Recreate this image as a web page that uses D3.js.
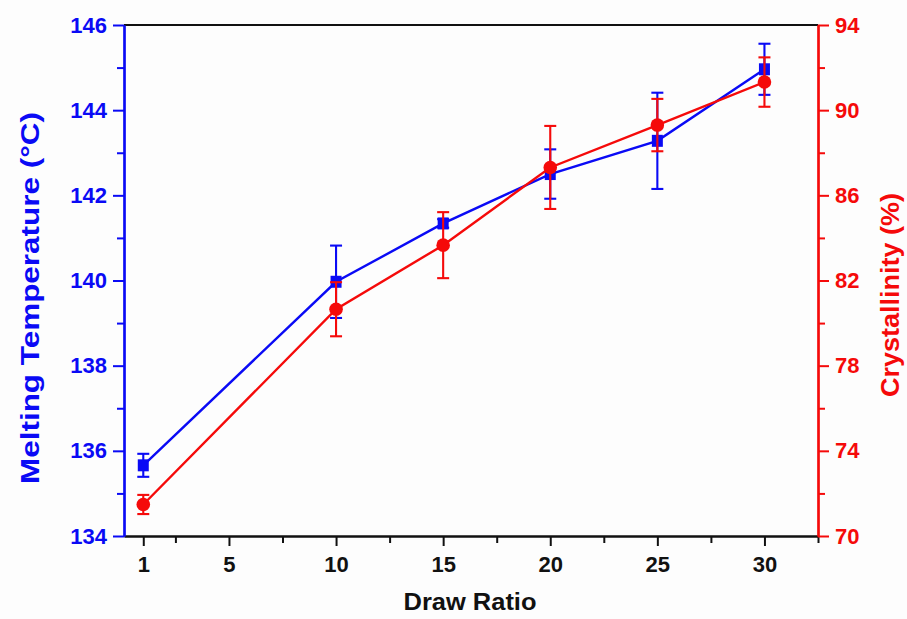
<!DOCTYPE html>
<html>
<head>
<meta charset="utf-8">
<script src="https://cdn.jsdelivr.net/npm/d3@7/dist/d3.min.js"></script>
<style>
  html, body { margin: 0; padding: 0; background: #fdfdfd; }
  svg { display: block; font-family: "Liberation Sans", Arial, sans-serif; font-weight: bold; }
</style>
</head>
<body>
<svg id="chart" width="907" height="619"></svg>
<script>
// Draw ratio of the fibres and the two measured properties
const drawRatio = [1, 10, 15, 20, 25, 30];
const meltTemp = [135.66, 139.97, 141.34, 142.50, 143.28, 144.96];
const meltErr = [0.27, 0.85, 0.10, 0.58, 1.13, 0.60];
const crystallinity = [71.48, 80.65, 83.66, 87.31, 89.30, 91.32];
const crystErr = [0.45, 1.27, 1.55, 1.95, 1.23, 1.16];

const xMajorTicks = [1, 5, 10, 15, 20, 25, 30];
const xMinorTicks = [2.5, 7.5, 12.5, 17.5, 22.5, 27.5, 32.5];
const leftMajorTicks = [134, 136, 138, 140, 142, 144, 146];
const leftMinorTicks = [135, 137, 139, 141, 143, 145];
const rightMajorTicks = [70, 74, 78, 82, 86, 90, 94];
const rightMinorTicks = [72, 76, 80, 84, 88, 92];

const BLUE = "#0a0af5";
const RED = "#f50a0a";
const BLACK = "#111";

const svg = d3.select("#chart");
const plotLeft = 124, plotRight = 818, plotTop = 25, plotBottom = 536;

const x = d3.scaleLinear().domain([0.1, 32.5]).range([plotLeft, plotRight]);
const yL = d3.scaleLinear().domain([134, 146]).range([plotBottom, plotTop]);
const yR = d3.scaleLinear().domain([70, 94]).range([plotBottom, plotTop]);

function styleAxis(g, color) {
  g.selectAll("path.domain").attr("stroke", color).attr("stroke-width", 2.2);
  g.selectAll(".tick line").attr("stroke", color).attr("stroke-width", 2);
  g.selectAll(".tick text").attr("fill", color).attr("font-size", 22)
    .attr("font-family", "Liberation Sans, Arial, sans-serif").attr("font-weight", "bold");
}

// top frame line
svg.append("line").attr("x1", plotLeft).attr("x2", plotRight).attr("y1", plotTop).attr("y2", plotTop)
  .attr("stroke", BLACK).attr("stroke-width", 2.2);

// x axis (bottom)
const gxMinor = svg.append("g").attr("transform", `translate(0,${plotBottom})`)
  .call(d3.axisBottom(x).tickValues(xMinorTicks).tickSize(7).tickFormat("").tickSizeOuter(0));
styleAxis(gxMinor, BLACK);
const gx = svg.append("g").attr("transform", `translate(0,${plotBottom})`)
  .call(d3.axisBottom(x).tickValues(xMajorTicks).tickSize(10).tickPadding(10).tickSizeOuter(0));
styleAxis(gx, BLACK);

// left axis
const gyLMinor = svg.append("g").attr("transform", `translate(${plotLeft},0)`)
  .call(d3.axisLeft(yL).tickValues(leftMinorTicks).tickSize(7).tickFormat("").tickSizeOuter(0));
styleAxis(gyLMinor, BLUE);
const gyL = svg.append("g").attr("transform", `translate(${plotLeft},0)`)
  .call(d3.axisLeft(yL).tickValues(leftMajorTicks).tickSize(11).tickPadding(6).tickSizeOuter(0));
styleAxis(gyL, BLUE);

// right axis
const gyRMinor = svg.append("g").attr("transform", `translate(${plotRight},0)`)
  .call(d3.axisRight(yR).tickValues(rightMinorTicks).tickSize(7).tickFormat("").tickSizeOuter(0));
styleAxis(gyRMinor, RED);
const gyR = svg.append("g").attr("transform", `translate(${plotRight},0)`)
  .call(d3.axisRight(yR).tickValues(rightMajorTicks).tickSize(11).tickPadding(6).tickSizeOuter(0));
styleAxis(gyR, RED);

// axis titles
svg.append("text").attr("x", 470).attr("y", 610).attr("text-anchor", "middle")
  .attr("font-size", 24).attr("fill", BLACK).attr("textLength", 133)
  .attr("lengthAdjust", "spacingAndGlyphs").text("Draw Ratio");
svg.append("text").attr("transform", "translate(39,298) rotate(-90)")
  .attr("text-anchor", "middle").attr("font-size", 26).attr("fill", BLUE)
  .attr("textLength", 372).attr("lengthAdjust", "spacingAndGlyphs")
  .text("Melting Temperature (°C)");
svg.append("text").attr("transform", "translate(899,295) rotate(-90)")
  .attr("text-anchor", "middle").attr("font-size", 26).attr("fill", RED)
  .attr("textLength", 204).attr("lengthAdjust", "spacingAndGlyphs")
  .text("Crystallinity (%)");

// one series: connecting line, error bars, markers
function drawSeries(values, errors, yScale, color, shape) {
  const pts = drawRatio.map((d, i) => ({ x: d, y: values[i], e: errors[i] }));
  const g = svg.append("g");
  g.append("path").datum(pts)
    .attr("fill", "none").attr("stroke", color).attr("stroke-width", 2.4)
    .attr("d", d3.line().x(d => x(d.x)).y(d => yScale(d.y)));
  const cap = 6;
  const eb = g.selectAll("g.err").data(pts).join("g").attr("class", "err")
    .attr("stroke", color).attr("stroke-width", 2.1);
  eb.append("line").attr("x1", d => x(d.x)).attr("x2", d => x(d.x))
    .attr("y1", d => yScale(d.y - d.e)).attr("y2", d => yScale(d.y + d.e));
  eb.append("line").attr("x1", d => x(d.x) - cap).attr("x2", d => x(d.x) + cap)
    .attr("y1", d => yScale(d.y + d.e)).attr("y2", d => yScale(d.y + d.e));
  eb.append("line").attr("x1", d => x(d.x) - cap).attr("x2", d => x(d.x) + cap)
    .attr("y1", d => yScale(d.y - d.e)).attr("y2", d => yScale(d.y - d.e));
  if (shape === "square") {
    g.selectAll("rect.m").data(pts).join("rect").attr("class", "m")
      .attr("x", d => x(d.x) - 5.5).attr("y", d => yScale(d.y) - 6)
      .attr("width", 11).attr("height", 12).attr("fill", color);
  } else {
    g.selectAll("circle.m").data(pts).join("circle").attr("class", "m")
      .attr("cx", d => x(d.x)).attr("cy", d => yScale(d.y)).attr("r", 6.8)
      .attr("fill", color);
  }
}

drawSeries(meltTemp, meltErr, yL, BLUE, "square");
drawSeries(crystallinity, crystErr, yR, RED, "circle");
</script>
</body>
</html>
